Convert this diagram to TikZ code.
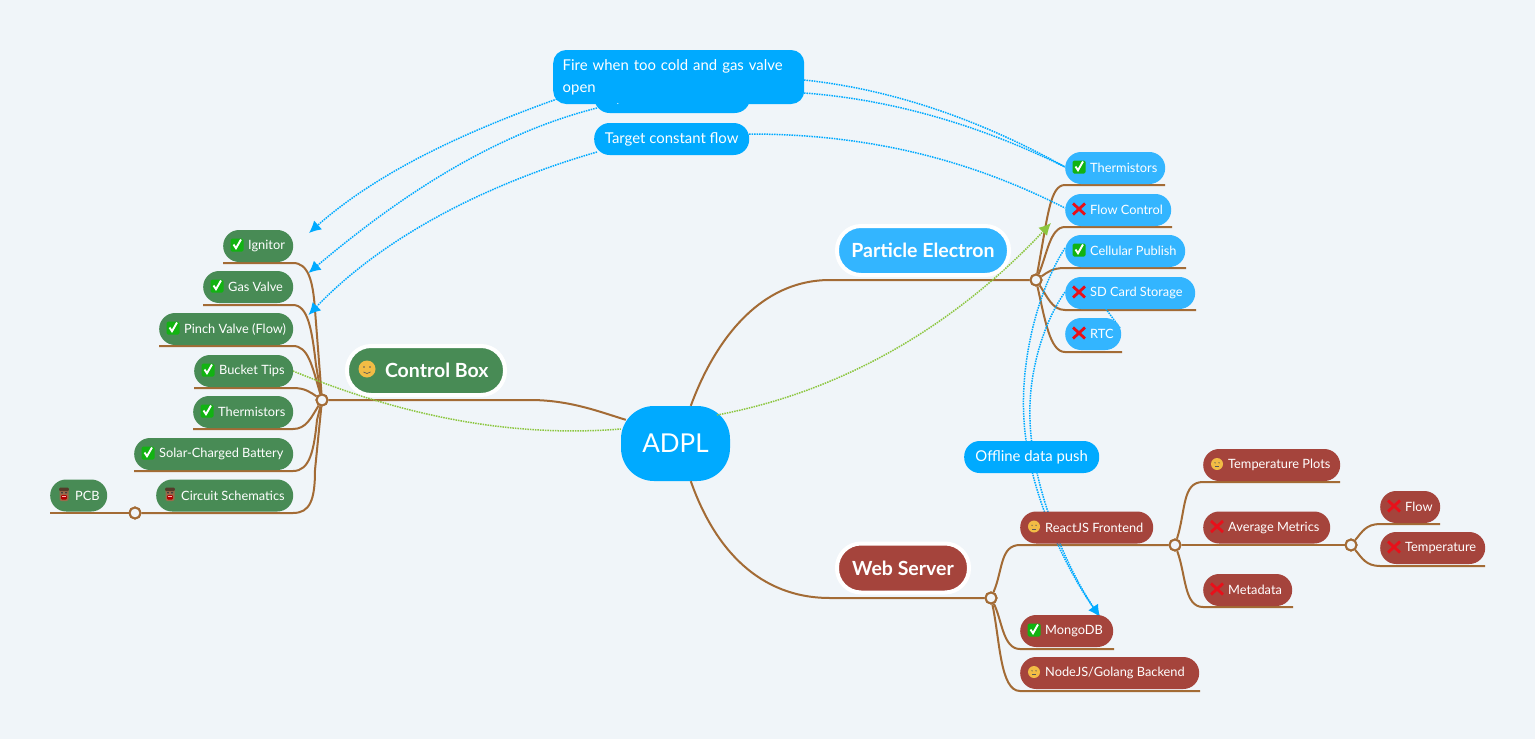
\documentclass[tikz,border=0pt]{standalone}
\usepackage{fontspec}
\setmainfont{Lato}
\usetikzlibrary{arrows.meta}
\definecolor{bgc}{HTML}{F0F5F9}
\definecolor{blueA}{HTML}{00AAFF}
\definecolor{blueB}{HTML}{33B5FF}
\definecolor{greenA}{HTML}{488B55}
\definecolor{redA}{HTML}{A5443C}
\definecolor{brownA}{HTML}{A36B35}
\definecolor{limeA}{HTML}{8CC63F}
\definecolor{checkg}{HTML}{12B312}
\definecolor{crossr}{HTML}{E8101A}
\definecolor{facey}{HTML}{F2BC45}
\definecolor{doomb}{HTML}{9A6A4A}
\newcommand{\lab}[2]{\makebox[#1pt][l]{\hspace*{25pt}\raisebox{-0.6pt}{#2}}}
\tikzset{
  x=1pt,y=-1pt,
  box/.style={rounded corners=15.9pt,inner sep=0pt,text=white,font=\fontsize{12.8}{14}\selectfont,minimum height=32pt,anchor=west},
  leafg/.style={box,fill=greenA},
  leafr/.style={box,fill=redA},
  leafb/.style={box,fill=blueB},
  main/.style={box,font=\fontsize{19.5}{22}\selectfont\bfseries,draw=white,line width=4pt,rounded corners=24pt,minimum height=49pt},
  float/.style={box,fill=blueA,font=\fontsize{14.9}{22}\selectfont,rounded corners=15.5pt},
  branch/.style={draw=brownA,line width=2pt},
  hub/.style={circle,draw=brownA,line width=2pt,fill=bgc,minimum size=11pt,inner sep=0pt},
  dotl/.style={line width=1.5pt,dash pattern=on 1.5pt off 1pt},
  link/.style={draw=blueA,dotl,-{Latex[length=12pt,width=12pt]}},
  linkn/.style={draw=blueA,dotl},
  glink/.style={draw=limeA,dotl},
  yes/.pic={
    \fill[checkg,rounded corners=1.5pt] (-6.5,-6.5) rectangle (6.5,6.5);
    \draw[white,line width=1.9pt] (-3.5,-0.5) -- (-1,3.2) -- (4,-5.5);
  },
  nope/.pic={
    \draw[crossr,line width=2.8pt] (-6,-5.5) -- (6,5.5) (6,-5.5) -- (-6,5.5);
  },
  meh/.pic={
    \fill[facey] (0,0) circle (6);
    \fill[black!65] (-2,-1.2) circle (0.7) (2,-1.2) circle (0.7);
    \draw[black!65,line width=0.6pt] (-2,2.6) -- (2,2.6);
  },
  smile/.pic={
    \fill[facey] (0,0) circle (8.5);
    \fill[black!65] (-3,-2) circle (0.9) (3,-2) circle (0.9);
    \draw[black!65,line width=0.7pt] (-3.5,3) .. controls (-1,5) and (1,5) .. (3.5,3);
  },
  doom/.pic={
    \fill[doomb,rounded corners=2pt] (-4.5,-6.5) rectangle (4.5,6.5);
    \fill[doomb!55!black,rounded corners=1pt] (-4.8,-6.8) rectangle (4.8,-3.5);
    \fill[red!70!black,rounded corners=1pt] (-2.8,0.5) rectangle (2.8,5);
    \fill[white!70!red] (-2,1.2) rectangle (2,2);
    \fill[black!75] (-3,-2.3) rectangle (-1.2,-1.2) (1.2,-2.3) rectangle (3,-1.2);
  }
}
\begin{document}
\begin{tikzpicture}
\useasboundingbox[fill=bgc] (0,0) rectangle (1535,739);

\node[fill=blueA,text=white,rounded corners=33pt,inner sep=0pt,minimum width=109pt,minimum height=75pt,font=\fontsize{26}{28}\selectfont] (adpl) at (675.5,443.5) {ADPL};

\node[hub] (hubC) at (322,400) {};
\node[hub] (hubP) at (1036,280) {};
\node[hub] (hubW) at (991,598) {};
\node[hub] (hubR) at (1175,545) {};
\node[hub] (hubA) at (1351,545) {};
\node[hub] (hubS) at (135,513) {};
\coordinate (greenEnd) at (1051,223);
\coordinate (ticks) at (1106,309);
\coordinate (mongoTip) at (1100,617);
\coordinate (gasTip) at (308.5,273);
\coordinate (ignTip) at (309,233);
\coordinate (pinchTip) at (308.5,315);

% main branches
\draw[branch] (adpl.north west) ++(70,0) .. controls (715,340) and (760,280) .. (830,280) -- (hubP);
\draw[branch] (adpl.south west) ++(70,0) .. controls (715,550) and (760,598) .. (830,598) -- (hubW);
\draw[branch] (adpl.north west) ++(5,14) .. controls (600,412) and (570,400) .. (530,400) -- (hubC);

% left branches
\draw[branch] (223,263) -- (293,263) .. controls (308,263) and (313,280) .. (315,310) -- (hubC);
\draw[branch] (203,305) -- (293,305) .. controls (308,305) and (312,330) .. (316,365) -- (hubC);
\draw[branch] (159,346) -- (293,346) .. controls (308,346) and (312,365) .. (hubC);
\draw[branch] (194,388) -- (293,388) .. controls (305,388) and (310,392) .. (hubC);
\draw[branch] (193,429) -- (293,429) .. controls (306,429) and (311,418) .. (hubC);
\draw[branch] (134,471) -- (293,471) .. controls (310,471) and (314,450) .. (317,420) -- (hubC);
\draw[branch] (hubS) -- (293,513) .. controls (310,513) and (315,500) .. (315,470) -- (hubC);
\draw[branch] (50,513) -- (hubS);

% right branches: particle
\draw[branch] (1165,185) -- (1065,185) .. controls (1050,185) and (1048,215) .. (hubP);
\draw[branch] (1172,227) -- (1065,227) .. controls (1050,227) and (1047,255) .. (hubP);
\draw[branch] (1186,268) -- (1065,268) .. controls (1052,268) and (1048,272) .. (hubP);
\draw[branch] (1196,310) -- (1065,310) .. controls (1052,310) and (1047,296) .. (hubP);
\draw[branch] (1122,352) -- (1065,352) .. controls (1050,352) and (1045,320) .. (hubP);

% web
\draw[branch] (hubR) -- (1020,545) .. controls (1000,545) and (1003,570) .. (hubW);
\draw[branch] (1114,649) -- (1020,649) .. controls (1003,649) and (1002,620) .. (hubW);
\draw[branch] (1200,691) -- (1020,691) .. controls (1000,691) and (1000,640) .. (hubW);
\draw[branch] (1340,482) -- (1203,482) .. controls (1182,482) and (1186,510) .. (hubR);
\draw[branch] (hubA) -- (hubR);
\draw[branch] (1293,607) -- (1203,607) .. controls (1184,607) and (1186,575) .. (hubR);
\draw[branch] (1440,524) -- (1380,524) .. controls (1366,524) and (1362,532) .. (hubA);
\draw[branch] (1485,566) -- (1380,566) .. controls (1366,566) and (1362,558) .. (hubA);

% hubs over the lines
\foreach \h in {hubC,hubP,hubW,hubR,hubA,hubS}{\fill[bgc] (\h) circle (5.5);\draw[brownA,line width=2pt] (\h) circle (5.5);}

% dotted links under the nodes
\draw[linkn] (1065,248) .. controls (1038,290) and (1020,360) .. (1024,420) .. controls (1028,490) and (1065,570) .. (mongoTip);
\draw[link] (1065,292) .. controls (1045,320) and (1028,370) .. (1030,420) .. controls (1032,490) and (1068,570) .. (mongoTip);
\draw[linkn] (1120,328) -- (ticks);
\draw[glink] (293,371) .. controls (400,415) and (510,438) .. (adpl.west |- 0,429);
\draw[glink,-{Latex[length=12pt,width=12pt]}] (717,415) .. controls (850,390) and (960,320) .. (greenEnd);
\draw[link] (557,99) .. controls (470,130) and (380,170) .. (ignTip);
\draw[link] (597,108) .. controls (490,135) and (395,200) .. (gasTip);
\draw[link] (597,152) .. controls (500,180) and (390,230) .. (pinchTip);
\draw[linkn] (804,80) .. controls (900,90) and (990,125) .. (1065,167);
\draw[linkn] (804,93) .. controls (900,100) and (990,130) .. (1065,167);
\draw[linkn] (749,134) .. controls (880,134) and (980,165) .. (1065,208);

% leaves: left
\node[leafg] (ign) at (223,246) {\lab{70}{Ignitor}};
\node[leafg] (gas) at (203,287) {\lab{90}{Gas Valve}};
\node[leafg] (pinch) at (159,329) {\lab{134}{Pinch Valve (Flow)}};
\node[leafg] (bucket) at (194,371) {\lab{99}{Bucket Tips}};
\node[leafg] (therL) at (193,412) {\lab{100}{Thermistors}};
\node[leafg] (solar) at (134,454) {\lab{159}{Solar-Charged Battery}};
\node[leafg] (circ) at (156,495.5) {\lab{137}{Circuit Schematics}};
\node[leafg] (pcb) at (50,495.5) {\lab{57}{PCB}};
% leaves: particle
\node[leafb] (therR) at (1065,168) {\lab{100}{Thermistors}};
\node[leafb] (flowc) at (1065,210) {\lab{106}{Flow Control}};
\node[leafb] (cell) at (1065,251) {\lab{120}{Cellular Publish}};
\node[leafb] (sd) at (1065,293) {\lab{130}{SD Card Storage}};
\node[leafb] (rtc) at (1065,334) {\lab{56}{RTC}};
% leaves: web
\node[leafr] (react) at (1020,527.5) {\lab{133}{ReactJS Frontend}};
\node[leafr] (mongo) at (1020,631) {\lab{93}{MongoDB}};
\node[leafr] (nodejs) at (1020,673) {\lab{179}{NodeJS/Golang Backend}};
\node[leafr] (tplots) at (1203,465) {\lab{137}{Temperature Plots}};
\node[leafr] (avg) at (1203,527.5) {\lab{127}{Average Metrics}};
\node[leafr] (meta) at (1203,590) {\lab{89}{Metadata}};
\node[leafr] (flow) at (1380,507) {\lab{60}{Flow}};
\node[leafr] (temp) at (1380,548) {\lab{105}{Temperature}};

% main nodes
\node[main,fill=greenA] (control) at (345,370.5) {\makebox[158pt][l]{\hspace*{38pt}Control Box}};
\node[main,fill=blueB,minimum width=172pt] (particle) at (835,250.5) {Particle Electron};
\node[main,fill=redA,minimum width=132pt] (web) at (835,568) {Web Server};

% floating labels
\node[float,minimum width=156pt] (hidden) at (594,97) {};
\node[float,minimum width=251pt,minimum height=54pt,align=left,text width=232pt,rounded corners=13pt] (fire) at (553,77) {Fire when too cold and gas valve\\open};
\node[white,font=\fontsize{9}{9}\selectfont,inner sep=0pt] (dotm) at (618,104.5) {.};
\node[float,minimum width=155pt] (target) at (594,139) {Target constant flow};
\node[float,minimum width=135pt] (offline) at (964,457) {Offline data push};

% icons
\foreach \n/\ic in {ign/yes,gas/yes,pinch/yes,bucket/yes,therL/yes,solar/yes,therR/yes,cell/yes,mongo/yes,flowc/nope,sd/nope,rtc/nope,avg/nope,meta/nope,flow/nope,temp/nope,react/meh,nodejs/meh,tplots/meh,circ/doom,pcb/doom}{
  \pic at ([xshift=14pt,yshift=1pt]\n.west) {\ic};
}
\pic at ([xshift=22pt,yshift=1.5pt]control.west) {smile};
\end{tikzpicture}
\end{document}
